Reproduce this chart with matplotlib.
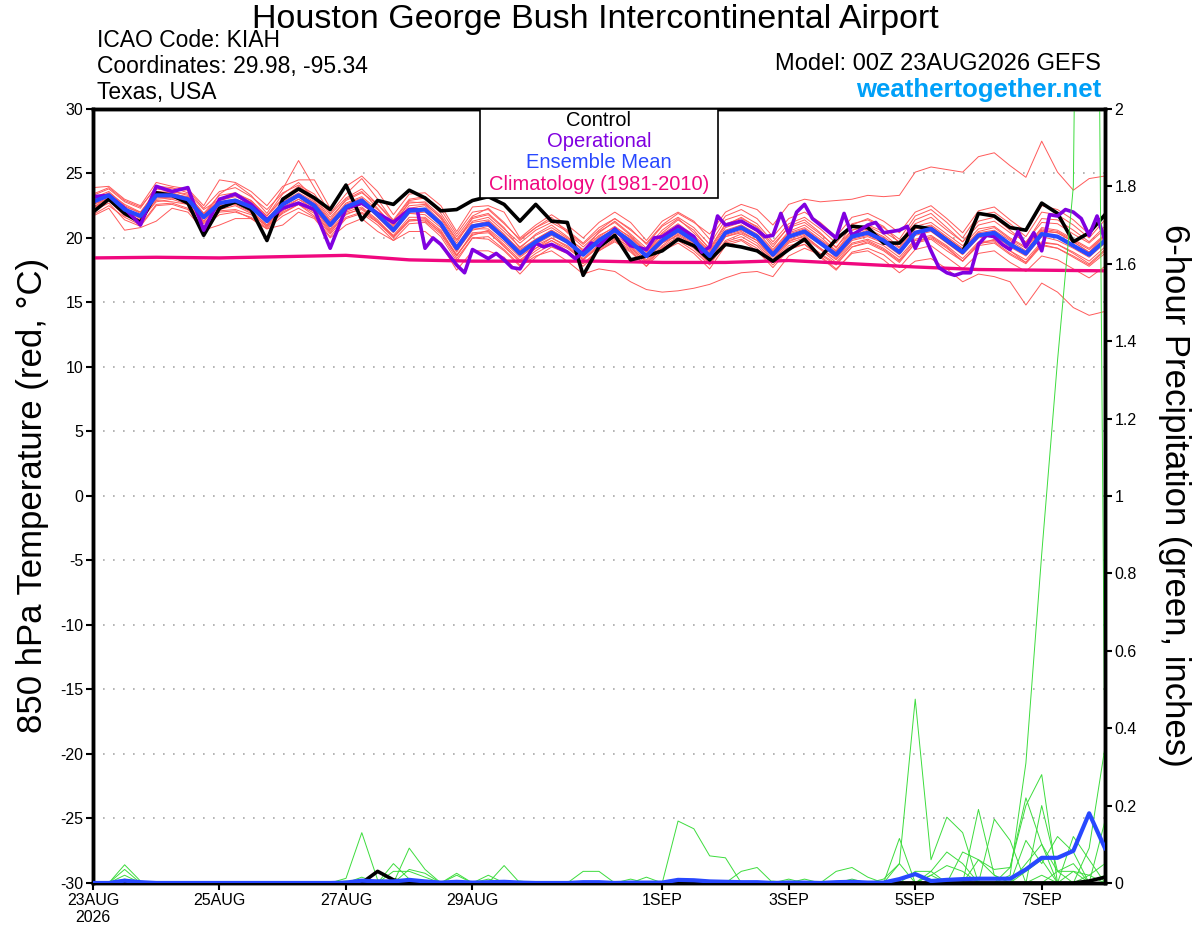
import numpy as np
import matplotlib
matplotlib.use('Agg')
import matplotlib.pyplot as plt
from matplotlib.patches import Rectangle

plt.rcParams['font.family'] = ['Liberation Sans', 'DejaVu Sans']

# forecast hours, 6-hourly out to 384h
hours = np.arange(0, 385, 6)

# ensemble mean, control (850 hPa temperature, C)
ens_mean = [22.8, 23.3, 22.2, 21.7, 23.3, 23.3, 23.0, 21.6, 22.7, 22.9, 22.4, 21.3, 22.6, 23.3, 22.5, 21.0,
            22.4, 22.9, 21.8, 20.6, 22.1, 22.2, 21.1, 19.2, 20.9, 21.1, 20.0, 18.8, 19.7, 20.4, 19.7, 18.7,
            19.8, 20.6, 19.7, 18.6, 19.8, 20.6, 19.8, 18.6, 20.4, 20.8, 20.1, 18.7, 20.1, 20.5, 19.6, 18.7,
            20.1, 20.4, 19.8, 18.9, 20.4, 20.7, 19.8, 18.9, 20.2, 20.4, 19.5, 18.8, 20.3, 20.1, 19.4, 18.7, 19.8]
control = [22.0, 23.0, 21.9, 21.2, 23.5, 23.3, 22.7, 20.2, 22.3, 22.8, 22.2, 19.8, 23.0, 23.8, 23.1, 22.2,
           24.1, 21.4, 22.9, 22.6, 23.7, 23.1, 22.1, 22.2, 22.9, 23.2, 22.6, 21.3, 22.6, 21.3, 21.2, 17.1,
           19.3, 20.2, 18.3, 18.6, 19.0, 19.9, 19.4, 18.3, 19.5, 19.3, 19.0, 18.2, 19.1, 19.9, 18.5, 19.9,
           20.9, 20.8, 19.6, 19.6, 20.9, 20.7, 19.8, 18.9, 21.9, 21.7, 20.8, 20.6, 22.7, 21.9, 19.7, 20.4, 21.8]

# operational run has some 3-hourly points
hours_op = [0, 6, 12, 18, 24, 30, 36, 42, 48, 54, 60, 66, 72, 78, 84, 90, 96, 102, 108, 114, 120, 123, 126,
            129, 132, 138, 141, 144, 150, 153, 156, 159, 162, 168, 171, 174, 180, 183, 186, 189, 192, 198,
            204, 210, 213, 216, 222, 228, 231, 234, 237, 240, 246, 252, 255, 258, 261, 264, 267, 270, 273,
            276, 282, 285, 288, 294, 297, 300, 306, 309, 312, 315, 318, 321, 324, 327, 330, 333, 336, 339,
            342, 345, 348, 351, 354, 357, 360, 363, 366, 369, 372, 375, 378, 381, 384]
operational = [23.2, 23.3, 22.3, 21.0, 24.0, 23.6, 23.9, 20.6, 23.0, 23.4, 22.6, 21.4, 22.3, 22.7, 22.2, 19.2,
               22.3, 22.7, 21.9, 21.2, 22.2, 22.2, 19.2, 20.0, 19.5, 17.9, 17.3, 19.1, 18.4, 18.8, 18.3,
               17.7, 17.6, 19.6, 19.3, 19.5, 18.9, 18.4, 18.9, 19.6, 19.4, 20.7, 19.4, 19.1, 20.0, 20.1,
               20.9, 20.1, 18.9, 19.3, 21.7, 21.0, 21.3, 20.6, 20.1, 20.2, 21.9, 20.3, 22.0, 22.6, 21.5,
               21.0, 20.0, 21.9, 20.2, 21.0, 21.2, 20.4, 20.6, 20.9, 19.2, 20.4, 19.0, 17.7, 17.3, 17.1,
               17.3, 17.3, 19.5, 20.2, 20.1, 19.5, 19.1, 20.5, 19.3, 20.4, 19.0, 21.8, 21.7, 22.2, 22.0,
               21.5, 20.2, 21.7, 19.8]

# climatology, daily
hours_clim = np.arange(0, 385, 24)
climatology = [18.45, 18.5, 18.45, 18.55, 18.65, 18.3, 18.2, 18.2, 18.2, 18.1, 18.1, 18.25, 18.0, 17.75,
               17.55, 17.5, 17.45]

# ensemble members (temperature)
members = [
    [22.9, 23.5, 22.6, 22.0, 23.6, 23.4, 23.2, 21.8, 23.0, 23.4, 22.9, 21.7, 23.1, 24.0, 23.2, 21.6,
     22.9, 23.5, 22.6, 21.2, 22.7, 22.8, 21.7, 19.9, 21.5, 21.8, 20.7, 19.6, 20.6, 21.2, 20.5, 19.5,
     20.6, 21.5, 20.6, 19.6, 21.0, 21.9, 21.2, 20.3, 22.0, 22.6, 22.2, 21.0, 22.6, 23.0, 22.8, 22.9,
     23.0, 23.3, 23.2, 23.3, 25.1, 25.5, 25.3, 25.1, 26.3, 26.6, 25.6, 24.7, 27.5, 25.1, 23.7, 24.6, 24.8],
    [22.4, 22.9, 21.8, 21.3, 22.9, 22.8, 22.6, 21.1, 22.2, 22.5, 21.9, 20.9, 22.1, 22.8, 22.0, 20.5,
     21.8, 22.3, 21.3, 20.2, 21.6, 21.6, 20.6, 18.6, 20.3, 20.4, 19.4, 18.1, 19.0, 19.8, 19.0, 18.0,
     19.1, 19.9, 19.1, 18.0, 19.2, 19.8, 19.0, 17.9, 19.6, 19.9, 19.2, 17.9, 19.2, 19.5, 18.6, 17.6,
     18.8, 19.0, 18.3, 17.3, 18.2, 18.4, 17.6, 16.6, 17.2, 17.0, 16.6, 14.8, 16.5, 15.8, 14.6, 14.0, 14.3],
    [22.6, 23.1, 21.9, 21.4, 23.0, 23.1, 22.8, 21.3, 22.4, 22.6, 22.0, 21.0, 22.2, 23.0, 22.2, 20.6,
     22.0, 22.4, 21.4, 20.1, 21.4, 21.3, 20.3, 18.4, 20.0, 19.9, 19.0, 17.8, 18.6, 19.0, 18.2, 17.2,
     17.6, 17.4, 16.6, 16.0, 15.8, 15.9, 16.1, 16.4, 16.9, 17.3, 17.4, 17.0, 18.6, 19.2, 18.7, 17.9,
     19.3, 19.7, 19.1, 18.2, 19.6, 20.1, 19.3, 18.2, 19.5, 19.9, 19.0, 18.1, 19.6, 19.5, 18.8, 18.0, 19.1],
    [23.1, 23.6, 22.5, 21.9, 23.8, 23.6, 23.4, 21.9, 23.3, 23.5, 22.9, 21.7, 23.4, 24.3, 23.1, 21.4,
     23.0, 23.6, 22.3, 20.9, 22.8, 22.7, 21.5, 19.6, 21.6, 21.9, 20.8, 19.2, 20.3, 21.0, 20.1, 19.0,
     20.5, 21.2, 20.2, 19.0, 20.4, 21.4, 20.6, 19.1, 21.0, 21.6, 20.8, 19.3, 20.9, 21.4, 20.4, 19.2,
     21.0, 21.5, 20.9, 19.6, 21.4, 21.9, 20.8, 19.7, 21.3, 21.6, 20.6, 19.6, 21.5, 21.4, 20.6, 19.7, 20.9],
    [22.3, 22.9, 21.7, 21.4, 22.8, 23.0, 22.6, 21.2, 22.1, 22.2, 21.8, 20.9, 21.9, 22.6, 21.9, 20.4,
     21.9, 22.2, 21.2, 20.1, 21.4, 21.5, 20.4, 18.6, 20.4, 20.5, 19.3, 18.2, 19.2, 19.8, 19.2, 18.3,
     19.3, 20.0, 19.3, 18.1, 19.2, 19.9, 19.2, 18.0, 19.7, 20.1, 19.4, 18.1, 19.4, 19.7, 18.8, 18.0,
     19.3, 19.6, 19.0, 18.1, 19.6, 19.9, 19.0, 18.2, 19.4, 19.6, 18.7, 18.0, 19.4, 19.2, 18.6, 17.9, 19.0],
    [22.9, 23.4, 22.3, 21.6, 23.6, 23.5, 23.1, 21.7, 23.4, 24.2, 23.3, 21.9, 23.8, 26.0, 23.9, 21.9,
     23.4, 24.6, 23.0, 21.3, 22.9, 23.1, 21.9, 20.1, 21.7, 22.3, 21.2, 19.8, 20.8, 21.6, 20.4, 19.3,
     20.4, 21.3, 20.3, 19.2, 20.6, 21.5, 20.4, 19.2, 21.1, 21.5, 20.9, 19.5, 20.8, 21.2, 20.3, 19.3,
     20.6, 21.0, 20.5, 19.7, 21.1, 21.6, 20.6, 19.7, 21.0, 21.3, 20.4, 19.7, 21.2, 21.1, 20.3, 19.6, 20.7],
    [22.6, 23.0, 22.0, 21.6, 23.2, 23.1, 22.9, 21.5, 22.5, 22.7, 22.4, 21.2, 22.4, 23.0, 22.4, 20.9,
     22.1, 22.6, 21.7, 20.6, 21.9, 22.0, 21.0, 19.0, 20.6, 20.9, 19.9, 18.6, 19.5, 20.2, 19.6, 18.6,
     19.7, 20.4, 19.6, 18.6, 19.6, 20.4, 19.7, 18.5, 20.2, 20.6, 20.0, 18.6, 19.9, 20.3, 19.5, 18.5,
     19.9, 20.2, 19.7, 18.8, 20.2, 20.5, 19.6, 18.7, 20.0, 20.2, 19.3, 18.6, 20.1, 19.8, 19.2, 18.5, 19.6],
    [23.3, 23.8, 22.8, 22.3, 24.0, 23.9, 23.5, 22.2, 23.0, 23.3, 22.8, 21.7, 23.0, 23.7, 22.9, 21.3,
     22.7, 23.2, 22.2, 21.0, 22.5, 22.6, 21.6, 19.8, 21.3, 21.6, 20.5, 19.3, 20.2, 20.8, 20.0, 19.1,
     20.2, 20.8, 20.1, 18.9, 20.3, 21.1, 20.2, 19.0, 20.8, 21.2, 20.5, 19.1, 20.5, 21.0, 20.1, 19.0,
     20.6, 20.9, 20.3, 19.3, 20.9, 21.2, 20.3, 19.4, 20.7, 20.9, 20.0, 19.3, 20.8, 20.6, 19.9, 19.2, 20.3],
    [21.8, 22.5, 21.6, 21.0, 22.6, 22.7, 22.3, 20.9, 22.0, 22.1, 21.5, 20.7, 21.7, 22.3, 21.6, 20.1,
     21.5, 21.9, 21.0, 19.8, 21.1, 21.2, 20.1, 18.2, 20.0, 20.1, 19.1, 17.9, 18.8, 19.5, 18.8, 17.8,
     19.0, 19.7, 18.9, 17.8, 19.0, 19.6, 18.8, 17.6, 19.4, 19.8, 19.0, 17.7, 19.1, 19.5, 18.5, 17.5,
     18.9, 19.2, 18.7, 17.7, 19.1, 19.4, 18.5, 17.6, 18.8, 19.0, 18.1, 17.4, 18.6, 18.3, 17.6, 16.9, 17.8],
    [23.0, 23.4, 22.4, 22.0, 23.5, 23.6, 23.3, 21.9, 22.9, 23.2, 22.7, 21.5, 22.8, 23.5, 22.8, 21.2,
     22.6, 23.1, 22.0, 20.7, 22.3, 22.5, 21.3, 19.4, 21.2, 21.4, 20.3, 19.0, 19.9, 20.6, 19.9, 18.8,
     20.0, 20.7, 19.9, 18.7, 20.1, 20.8, 20.0, 18.8, 20.5, 21.0, 20.2, 18.9, 20.3, 20.7, 19.8, 18.9,
     20.2, 20.6, 20.0, 19.0, 20.5, 20.9, 20.0, 19.1, 20.4, 20.6, 19.8, 19.0, 20.6, 20.4, 19.7, 18.9, 20.1],
    [22.4, 23.1, 22.1, 21.5, 23.1, 23.2, 22.8, 21.3, 22.6, 22.8, 22.1, 21.0, 22.5, 23.2, 22.3, 20.7,
     22.3, 22.8, 21.6, 20.4, 21.9, 21.8, 20.8, 18.9, 20.7, 20.7, 19.7, 18.5, 19.4, 20.0, 19.4, 18.4,
     19.5, 20.2, 19.4, 18.3, 19.6, 20.2, 19.5, 18.2, 20.1, 20.4, 19.8, 18.3, 19.8, 20.1, 19.2, 18.3,
     19.6, 19.9, 19.4, 18.5, 19.9, 20.2, 19.4, 18.4, 19.7, 19.8, 19.0, 18.3, 19.7, 19.5, 18.9, 18.2, 19.3],
    [23.4, 23.9, 22.9, 22.4, 23.9, 23.8, 23.7, 22.3, 23.6, 23.9, 23.2, 22.2, 23.5, 24.1, 23.4, 21.8,
     23.1, 23.8, 22.6, 21.4, 23.0, 23.2, 22.2, 20.3, 22.0, 22.2, 21.1, 19.9, 20.8, 21.4, 20.6, 19.6,
     20.8, 21.5, 20.7, 19.5, 20.9, 21.6, 20.8, 19.5, 21.4, 21.8, 21.1, 19.7, 21.1, 21.6, 20.7, 19.6,
     21.1, 21.4, 20.8, 19.9, 21.7, 22.2, 21.2, 20.0, 21.8, 22.0, 21.1, 20.1, 22.0, 21.8, 21.0, 20.0, 21.4],
    [22.1, 22.7, 21.4, 20.9, 22.5, 22.6, 22.2, 20.9, 21.8, 22.0, 21.6, 20.8, 22.0, 22.6, 21.7, 20.3,
     21.6, 22.0, 21.2, 20.0, 21.3, 21.4, 20.5, 18.7, 20.2, 20.6, 19.5, 18.3, 19.2, 20.0, 19.3, 18.3,
     19.4, 20.1, 19.2, 18.2, 19.4, 20.3, 19.6, 18.4, 20.1, 20.5, 19.8, 18.5, 19.7, 20.2, 19.2, 18.4,
     19.8, 20.1, 19.6, 18.7, 20.3, 20.8, 19.9, 18.9, 20.1, 20.3, 19.6, 18.9, 20.5, 20.4, 19.7, 18.9, 20.3],
    [22.7, 23.2, 22.1, 21.8, 23.3, 23.4, 23.1, 21.8, 22.8, 23.0, 22.6, 21.4, 22.7, 23.4, 22.7, 21.1,
     22.5, 23.0, 21.9, 20.8, 22.2, 22.3, 21.2, 19.3, 21.0, 21.3, 20.2, 19.1, 19.9, 20.6, 19.8, 18.9,
     20.1, 20.9, 20.0, 18.9, 20.1, 20.9, 20.1, 18.9, 20.6, 21.0, 20.3, 19.0, 20.4, 20.8, 19.9, 19.0,
     20.4, 20.7, 20.1, 19.2, 20.7, 21.0, 20.1, 19.2, 20.5, 20.8, 19.9, 19.2, 20.7, 20.5, 19.8, 19.1, 20.2],
    [21.7, 22.3, 20.6, 20.8, 21.3, 22.3, 22.0, 20.6, 21.0, 21.5, 21.5, 20.7, 21.0, 22.0, 21.5, 20.0,
     21.0, 21.5, 20.5, 19.8, 20.5, 20.5, 19.5, 17.5, 19.0, 19.0, 18.5, 17.2, 18.5, 19.3, 18.8, 18.0,
     19.0, 19.8, 19.0, 17.8, 19.3, 20.1, 19.3, 18.1, 19.8, 20.3, 19.6, 18.2, 19.6, 20.0, 19.1, 18.1,
     19.5, 19.8, 19.2, 18.3, 19.8, 20.0, 19.2, 18.2, 19.6, 19.7, 18.8, 18.1, 19.5, 19.2, 18.5, 17.8, 18.8],
    [23.9, 24.0, 23.0, 22.5, 24.3, 24.0, 23.8, 22.5, 24.5, 24.3, 23.6, 22.5, 24.0, 24.5, 24.5, 22.3,
     24.0, 24.8, 23.6, 21.8, 23.4, 23.5, 22.5, 20.5, 22.4, 22.5, 22.0, 20.0, 21.0, 21.8, 21.0, 20.0,
     21.2, 22.0, 21.2, 19.8, 21.3, 22.0, 21.3, 19.9, 21.7, 22.2, 21.5, 20.1, 21.5, 22.0, 21.2, 20.1,
     21.6, 21.9, 21.3, 20.4, 22.0, 22.5, 21.5, 20.4, 22.1, 22.4, 21.4, 20.5, 22.5, 22.2, 21.4, 20.3, 21.8],
]

# 6-hour precipitation (inches): members, control, ensemble mean
precip_members = [
    [0, 0, 0.047, 0.005] + [0] * 16 + [0.035, 0.025] + [0] * 22 + [0.01] + [0] * 10 + [0.08, 0.06, 0.02,
     0, 0, 0, 0, 0.03, 0.02, 0],
    [0, 0, 0.035] + [0] * 14 + [0.015, 0, 0.05, 0.01, 0, 0, 0.025] + [0] * 28 + [0.03, 0.03, 0, 0, 0, 0,
     0, 0, 0.2, 0.03, 0, 0, 0.02],
    [0, 0, 0.02] + [0] * 13 + [0.012, 0.13, 0.008, 0, 0, 0, 0, 0, 0, 0.02] + [0] * 33 + [0.11, 0.05, 0.12,
     0.08, 0, 0],
    [0, 0, 0.01] + [0] * 13 + [0.005, 0, 0, 0, 0.09, 0.035, 0, 0, 0, 0, 0.045] + [0] * 18 + [0.01, 0, 0,
     0, 0, 0, 0.05, 0, 0.02, 0.045, 0.03, 0, 0, 0, 0, 0, 0, 0, 0, 0.16],
    [0] * 35 + [0.015, 0, 0.16, 0.14, 0.07, 0.065] + [0] * 6 + [0.03, 0.04, 0.015] + [0] * 15,
    [0] * 19 + [0.03, 0.03, 0.015, 0, 0.02] + [0] * 7 + [0.03, 0.03] + [0] * 8 + [0.03, 0.04] + [0] * 15
    + [0.04, 0.2, 0.28, 0, 0, 0, 0],
    [0] * 50 + [0.01, 0.05, 0.475, 0.06, 0.17, 0.13, 0, 0, 0, 0, 0.02, 0, 0.12, 0.06, 0],
    [0] * 51 + [0.115, 0, 0.02, 0, 0, 0.19, 0.02, 0, 0.05, 0.1, 0, 0, 0.09, 0.35],
    [0] * 58 + [0.02, 0.31, 0.85, 1.35, 1.8, 5.4, 0.3],
    [0] * 25 + [0.01] + [0] * 8 + [0.01] + [0] * 13 + [0.01] + [0] * 8 + [0.165, 0.11, 0, 0, 0.03, 0.03,
     0, 0],
    [0] * 27 + [0.005] + [0] * 16 + [0.005] + [0] * 11 + [0.06, 0.035, 0.04, 0.22, 0.1, 0.03, 0.05, 0, 0],
    [0] * 43 + [0.005] + [0] * 9 + [0.03, 0.08, 0.05, 0, 0, 0, 0.03, 0.06, 0, 0, 0.02, 0.05],
]
precip_control = [0] * 18 + [0.03, 0.008] + [0] * 43 + [0.005, 0.015]
precip_mean = [0, 0, 0.006, 0.002] + [0] * 12 + [0.001, 0.006, 0.004, 0.004, 0.008, 0.004, 0.001, 0.003,
               0.001, 0.002, 0.003, 0.001, 0, 0, 0, 0.002, 0.002, 0, 0.001, 0.001, 0.001, 0.008, 0.007,
               0.004, 0.003, 0.002, 0.002, 0, 0.001, 0.001, 0, 0.002, 0.003, 0.001, 0.001, 0.01, 0.023,
               0.005, 0.008, 0.01, 0.011, 0.011, 0.011, 0.035, 0.065, 0.065, 0.083, 0.18, 0.09]

xtick_hours = [0, 48, 96, 144, 216, 264, 312, 360]
xtick_labels = ['23AUG\n2026', '25AUG', '27AUG', '29AUG', '1SEP', '3SEP', '5SEP', '7SEP']
ytick_temp = [-30, -25, -20, -15, -10, -5, 0, 5, 10, 15, 20, 25, 30]
ytick_precip = [0, 0.2, 0.4, 0.6, 0.8, 1, 1.2, 1.4, 1.6, 1.8, 2]
ytick_precip_labels = ['0', '0.2', '0.4', '0.6', '0.8', '1', '1.2', '1.4', '1.6', '1.8', '2']

legend_labels = ['Control', 'Operational', 'Ensemble Mean', 'Climatology (1981-2010)']

c_member = '#ff5a5a'
c_green = '#3ddc3d'
c_op = '#8000e0'
c_mean = '#2848ff'
c_clim = '#f0087f'

fig = plt.figure(figsize=(12, 9.27), dpi=100)
ax = fig.add_axes([0.0775, 0.0475, 0.8433, 0.835])

for m in members:
    ax.plot(hours, m, color=c_member, lw=0.7, zorder=2)
ax.plot(hours_clim, climatology, color=c_clim, lw=2.4, zorder=3)
ax.plot(hours, control, color='black', lw=2.6, zorder=4)
ax.plot(hours_op, operational, color=c_op, lw=2.6, zorder=5)
ax.plot(hours, ens_mean, color=c_mean, lw=3.0, zorder=6)

ax.set_xlim(0, 384)
ax.set_ylim(-30, 30)
ax.set_yticks(ytick_temp)
ax.set_yticklabels([str(t) for t in ytick_temp])
ax.set_xticks(xtick_hours)
ax.set_xticklabels(xtick_labels)
ax.grid(axis='y', linestyle=(0, (1, 5)), color='#a8a8a8', lw=1.2)
ax.tick_params(axis='y', direction='out', length=5, width=1.5, labelsize=11.5, pad=2)
ax.tick_params(axis='x', direction='out', length=5, width=1.5, labelsize=11.5, pad=2)

ax2 = ax.twinx()
for p in precip_members:
    ax2.plot(hours, p, color=c_green, lw=0.7, zorder=2)
ax2.plot(hours, precip_control, color='black', lw=2.6, zorder=3)
ax2.plot(hours, precip_mean, color=c_mean, lw=3.0, zorder=4)
ax2.set_ylim(0, 2)
ax2.set_yticks(ytick_precip)
ax2.set_yticklabels(ytick_precip_labels)
ax2.tick_params(axis='y', direction='out', length=5, width=1.5, labelsize=11.5, pad=2)

for a in (ax, ax2):
    for s in a.spines.values():
        s.set_linewidth(2.5)

# legend box
ax2.add_patch(Rectangle((0.3824, 0.885), 0.2352, 0.115, transform=ax2.transAxes,
                        facecolor='white', edgecolor='black', lw=1.2, zorder=10, clip_on=False))
leg_y = [0.9845, 0.9574, 0.9302, 0.9018]
for lab, col, yy in zip(legend_labels, ['black', c_op, c_mean, c_clim], leg_y):
    ax2.text(0.5, yy, lab, color=col, fontsize=14.5, ha='center', va='center',
             transform=ax2.transAxes, zorder=11)

fig.text(0.496, 0.979, 'Houston George Bush Intercontinental Airport', fontsize=24.5,
         ha='center', va='center')
fig.text(0.0808, 0.9568, 'ICAO Code: KIAH', fontsize=16.5, ha='left', va='center')
fig.text(0.0808, 0.9288, 'Coordinates: 29.98, -95.34', fontsize=16.5, ha='left', va='center')
fig.text(0.0808, 0.8997, 'Texas, USA', fontsize=16.5, ha='left', va='center')
fig.text(0.9175, 0.931, 'Model: 00Z 23AUG2026 GEFS', fontsize=17, ha='right', va='center')
fig.text(0.9175, 0.9029, 'weathertogether.net', fontsize=18.5, fontweight='bold', color='#00a0f8',
         ha='right', va='center')

fig.text(0.027, 0.466, '850 hPa Temperature (red, °C)', fontsize=25, rotation=90,
         ha='center', va='center')
fig.text(0.979, 0.466, '6-hour Precipitation (green, inches)', fontsize=25, rotation=270,
         ha='center', va='center')

fig.savefig('out.png', dpi=100)
